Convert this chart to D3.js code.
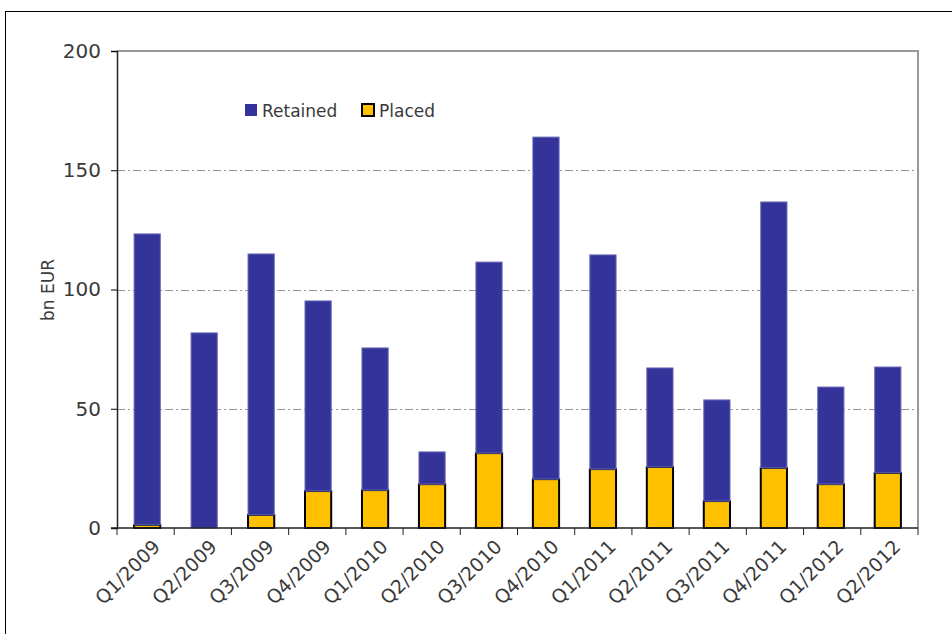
<!DOCTYPE html>
<html>
<head>
<meta charset="utf-8">
<script src="https://cdn.jsdelivr.net/npm/d3@7"></script>
<style>
  body { margin: 0; background: #fff; }
  text { font-family: "DejaVu Sans", sans-serif; fill: #3a3a3a; }
</style>
</head>
<body>
<div id="chart"></div>
<script>
// Quarters and values (bn EUR)
const quarters = ['Q1/2009', 'Q2/2009', 'Q3/2009', 'Q4/2009', 'Q1/2010', 'Q2/2010', 'Q3/2010',
    'Q4/2010', 'Q1/2011', 'Q2/2011', 'Q3/2011', 'Q4/2011', 'Q1/2012', 'Q2/2012'];
const placed = [1.3, 0, 5.5, 15.5, 15.9, 18.4, 31.4, 20.5, 24.7, 25.6, 11.3, 25.2, 18.4, 23.1];
const retained = [122.0, 81.8, 109.4, 79.7, 59.6, 13.5, 80.1, 143.4, 89.8, 41.5, 42.4, 111.5, 40.7, 44.4];
const yTicks = [0, 50, 100, 150, 200];

const dimensions = {
    width: 952,
    height: 634,
    left: 117,
    right: 918,
    top: 51,
    bottom: 528
}

const svg = d3.select('#chart')
    .append('svg')
    .attr('width', dimensions.width)
    .attr('height', dimensions.height);

// outer frame
svg.append('rect')
    .attr('x', 5.5).attr('y', 11.5)
    .attr('width', 1000).attr('height', 1000)
    .attr('fill', 'none').attr('stroke', '#000').attr('stroke-width', 1);

const x = d3.scaleBand()
    .domain(quarters)
    .range([dimensions.left, dimensions.right])
    .paddingInner(0.54)
    .paddingOuter(0.3);

const y = d3.scaleLinear()
    .domain([0, 200])
    .range([dimensions.bottom, dimensions.top]);

// plot frame (top and right, grey)
svg.append('path')
    .attr('d', `M${dimensions.left},${dimensions.top}H${dimensions.right}V${dimensions.bottom}`)
    .attr('fill', 'none').attr('stroke', '#999').attr('stroke-width', 2);

// gridlines
svg.append('g')
    .selectAll('line')
    .data(yTicks.filter(d => d > 0 && d < 200))
    .join('line')
    .attr('x1', dimensions.left).attr('x2', dimensions.right)
    .attr('y1', d => Math.round(y(d)) + 0.5).attr('y2', d => Math.round(y(d)) + 0.5)
    .attr('stroke', '#999')
    .attr('stroke-dasharray', '8,3,2,3');

// stacked bars
const stackData = quarters.map((q, i) => ({ q, placed: placed[i], retained: retained[i] }));
const series = d3.stack().keys(['placed', 'retained'])(stackData);
const colors = { placed: '#FFC000', retained: '#333399' };

svg.append('g')
    .selectAll('g')
    .data(series)
    .join('g')
    .attr('fill', d => colors[d.key])
    .each(function (s) {
        d3.select(this).selectAll('rect')
            .data(s.filter(d => d[1] - d[0] > 0))
            .join('rect')
            .attr('x', d => x(d.data.q))
            .attr('width', x.bandwidth())
            .attr('y', d => y(d[1]))
            .attr('height', d => y(d[0]) - y(d[1]))
            .attr('stroke', s.key === 'placed' ? '#000' : '#6b6bb8')
            .attr('stroke-width', s.key === 'placed' ? 2 : 1);
    });

// y axis
const yAxis = svg.append('g')
    .attr('transform', `translate(${dimensions.left},0)`)
    .call(d3.axisLeft(y).tickValues(yTicks).tickSize(6).tickPadding(10));
yAxis.selectAll('text').style('font-size', '20px').attr('fill', '#3a3a3a');
yAxis.select('.domain').attr('stroke', '#222').attr('stroke-width', 1.5);

// x axis with ticks at band boundaries
const xAxis = svg.append('g')
    .attr('transform', `translate(0,${dimensions.bottom})`);
xAxis.append('line')
    .attr('x1', dimensions.left - 6).attr('x2', dimensions.right)
    .attr('stroke', '#222').attr('stroke-width', 1.5);
xAxis.selectAll('.tick')
    .data(d3.range(quarters.length + 1))
    .join('line')
    .attr('x1', i => dimensions.left + i * (dimensions.right - dimensions.left) / quarters.length)
    .attr('x2', i => dimensions.left + i * (dimensions.right - dimensions.left) / quarters.length)
    .attr('y1', 0).attr('y2', 7)
    .attr('stroke', '#222');
xAxis.selectAll('text')
    .data(quarters)
    .join('text')
    .attr('transform', d => `translate(${x(d) + x.bandwidth() / 2 + 14},${20}) rotate(-45)`)
    .attr('text-anchor', 'end')
    .style('font-size', '19px')
    .text(d => d);

// y title
svg.append('text')
    .attr('transform', `translate(54,290) rotate(-90)`)
    .attr('text-anchor', 'middle')
    .style('font-size', '17px')
    .text('bn EUR');

// legend
const legend = svg.append('g').attr('transform', 'translate(245,104)');
const legendItems = [
    { label: 'Retained', key: 'retained', dx: 0 },
    { label: 'Placed', key: 'placed', dx: 117 }
];
legendItems.forEach(item => {
    legend.append('rect')
        .attr('x', item.dx).attr('y', 0)
        .attr('width', 12).attr('height', 12)
        .attr('fill', colors[item.key])
        .attr('stroke', item.key === 'placed' ? '#000' : 'none')
        .attr('stroke-width', 2);
    legend.append('text')
        .attr('x', item.dx + 17).attr('y', 13)
        .style('font-size', '17px')
        .text(item.label);
});
</script>
</body>
</html>
